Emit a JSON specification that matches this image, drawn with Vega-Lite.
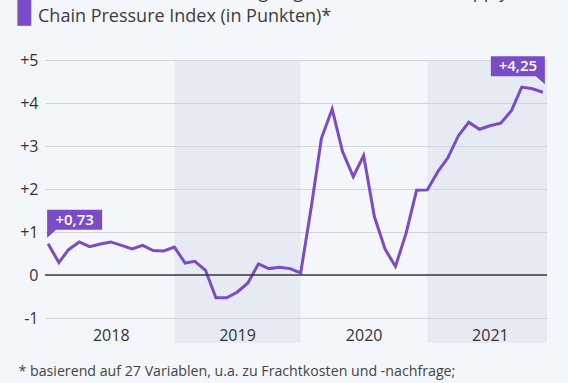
{
  "$schema": "https://vega.github.io/schema/vega-lite/v6.json",
  "width": 502,
  "height": 283,
  "autosize": {"type": "none"},
  "padding": {"left": 45, "top": 60, "right": 21, "bottom": 40},
  "background": "#f3f6fa",
  "config": {"view": {"stroke": null}, "font": "Open Sans"},
  "title": {
    "text": ["Werte des von der Fed vorgelegten neuen Global Supply", "Chain Pressure Index (in Punkten)*"],
    "anchor": "start",
    "frame": "group",
    "orient": "top",
    "fontSize": 18,
    "fontWeight": "normal",
    "color": "#3d3d3d",
    "lineHeight": 24,
    "dx": -7,
    "dy": 56,
    "baseline": "bottom",
    "offset": 0
  },
  "datasets": {
    "gscpi": [
      {"date": "2018/01/01", "value": 0.73},
      {"date": "2018/02/01", "value": 0.29},
      {"date": "2018/03/01", "value": 0.59},
      {"date": "2018/04/01", "value": 0.77},
      {"date": "2018/05/01", "value": 0.66},
      {"date": "2018/06/01", "value": 0.72},
      {"date": "2018/07/01", "value": 0.77},
      {"date": "2018/08/01", "value": 0.69},
      {"date": "2018/09/01", "value": 0.61},
      {"date": "2018/10/01", "value": 0.69},
      {"date": "2018/11/01", "value": 0.57},
      {"date": "2018/12/01", "value": 0.56},
      {"date": "2019/01/01", "value": 0.65},
      {"date": "2019/02/01", "value": 0.28},
      {"date": "2019/03/01", "value": 0.32},
      {"date": "2019/04/01", "value": 0.11},
      {"date": "2019/05/01", "value": -0.53},
      {"date": "2019/06/01", "value": -0.53},
      {"date": "2019/07/01", "value": -0.40},
      {"date": "2019/08/01", "value": -0.19},
      {"date": "2019/09/01", "value": 0.26},
      {"date": "2019/10/01", "value": 0.15},
      {"date": "2019/11/01", "value": 0.18},
      {"date": "2019/12/01", "value": 0.15},
      {"date": "2020/01/01", "value": 0.05},
      {"date": "2020/02/01", "value": 1.6},
      {"date": "2020/03/01", "value": 3.18},
      {"date": "2020/04/01", "value": 3.86},
      {"date": "2020/05/01", "value": 2.87},
      {"date": "2020/06/01", "value": 2.29},
      {"date": "2020/07/01", "value": 2.78},
      {"date": "2020/08/01", "value": 1.36},
      {"date": "2020/09/01", "value": 0.6},
      {"date": "2020/10/01", "value": 0.2},
      {"date": "2020/11/01", "value": 0.98},
      {"date": "2020/12/01", "value": 1.97},
      {"date": "2021/01/01", "value": 1.98},
      {"date": "2021/02/01", "value": 2.41},
      {"date": "2021/03/01", "value": 2.72},
      {"date": "2021/04/01", "value": 3.24},
      {"date": "2021/05/01", "value": 3.55},
      {"date": "2021/06/01", "value": 3.39},
      {"date": "2021/07/01", "value": 3.47},
      {"date": "2021/08/01", "value": 3.53},
      {"date": "2021/09/01", "value": 3.82},
      {"date": "2021/10/01", "value": 4.37},
      {"date": "2021/11/01", "value": 4.33},
      {"date": "2021/12/01", "value": 4.25}
    ],
    "bands": [
      {"start": "2019/01/01", "end": "2020/01/01"},
      {"start": "2021/01/01", "end": "2022/01/01"}
    ],
    "first": [{"date": "2018/01/01", "value": 0.73, "label": "+0,73"}],
    "last": [{"date": "2021/12/01", "value": 4.25, "label": "+4,25"}]
  },
  "layer": [
    {
      "data": {"name": "bands"},
      "mark": {"type": "rect", "color": "#cbd1e3", "opacity": 0.3, "clip": true},
      "encoding": {
        "x": {"field": "start", "type": "temporal"},
        "x2": {"field": "end"}
      }
    },
    {
      "data": {"name": "gscpi"},
      "mark": {"type": "line", "color": "#7b4cc7", "strokeWidth": 3, "strokeJoin": "miter"},
      "encoding": {
        "x": {
          "field": "date",
          "type": "temporal",
          "scale": {"domain": [{"year": 2017, "month": 12, "date": 23}, {"year": 2021, "month": 12, "date": 13}]},
          "axis": {
            "values": [
              {"year": 2018, "month": 7, "date": 1},
              {"year": 2019, "month": 7, "date": 1},
              {"year": 2020, "month": 7, "date": 1},
              {"year": 2021, "month": 7, "date": 1}
            ],
            "format": "%Y",
            "zindex": 1,
            "labelOverlap": false,
            "domain": false,
            "ticks": false,
            "grid": false,
            "labelFontSize": 16,
            "labelColor": "#333333",
            "labelBaseline": "alphabetic",
            "labelPadding": -3,
            "labelFlush": false,
            "title": ["* basierend auf 27 Variablen, u.a. zu Frachtkosten und -nachfrage;", "\u00a0\u00a0\u00a0Hoher Wert = hohe Störungen; Null-Achse = Durchschnitt 1997 bis 2021"],
            "titleFontSize": 14.2,
            "titleFontWeight": "normal",
            "titleColor": "#444444",
            "titleAlign": "left",
            "titleBaseline": "alphabetic",
            "titleX": -27,
            "titleY": 32,
            "titleLineHeight": 19
          }
        },
        "y": {
          "field": "value",
          "type": "quantitative",
          "scale": {"domain": [-1.58, 5], "nice": false, "zero": false},
          "axis": {
            "values": [-1, 0, 1, 2, 3, 4, 5],
            "labelExpr": "datum.value > 0 ? '+' + datum.value : '' + datum.value",
            "domain": false,
            "ticks": false,
            "gridColor": "#d2d6dc",
            "gridWidth": 1,
            "labelFontSize": 16,
            "labelColor": "#333333",
            "labelPadding": 7,
            "title": "▌",
            "titleFont": "DejaVu Sans",
            "titleFontSize": 35,
            "titleColor": "#7b4cc7",
            "titleAngle": 0,
            "titleAlign": "left",
            "titleBaseline": "alphabetic",
            "titleX": -28,
            "titleY": -43.8
          }
        }
      }
    },
    {
      "data": {"values": [{"zero": 0}]},
      "mark": {"type": "rule", "color": "#3a3a3a", "strokeWidth": 1.5},
      "encoding": {"y": {"field": "zero", "type": "quantitative"}}
    },
    {
      "data": {"name": "first"},
      "mark": {"type": "point", "filled": true, "opacity": 1, "color": "#7b4cc7", "size": 4, "shape": "M-1,-34 L54,-34 L54,-14 L8,-14 L-1,-6 Z"},
      "encoding": {
        "x": {"field": "date", "type": "temporal"},
        "y": {"field": "value", "type": "quantitative"}
      }
    },
    {
      "data": {"name": "first"},
      "mark": {"type": "text", "color": "white", "fontSize": 15, "fontWeight": 600, "dx": 26.5, "dy": -24, "align": "center", "baseline": "middle"},
      "encoding": {
        "x": {"field": "date", "type": "temporal"},
        "y": {"field": "value", "type": "quantitative"},
        "text": {"field": "label"}
      }
    },
    {
      "data": {"name": "last"},
      "mark": {"type": "point", "filled": true, "opacity": 1, "color": "#7b4cc7", "size": 4, "shape": "M-52,-36 L2,-36 L2,-8 L-7,-16 L-52,-16 Z"},
      "encoding": {
        "x": {"field": "date", "type": "temporal"},
        "y": {"field": "value", "type": "quantitative"}
      }
    },
    {
      "data": {"name": "last"},
      "mark": {"type": "text", "color": "white", "fontSize": 15, "fontWeight": 600, "dx": -25, "dy": -26, "align": "center", "baseline": "middle"},
      "encoding": {
        "x": {"field": "date", "type": "temporal"},
        "y": {"field": "value", "type": "quantitative"},
        "text": {"field": "label"}
      }
    }
  ]
}
